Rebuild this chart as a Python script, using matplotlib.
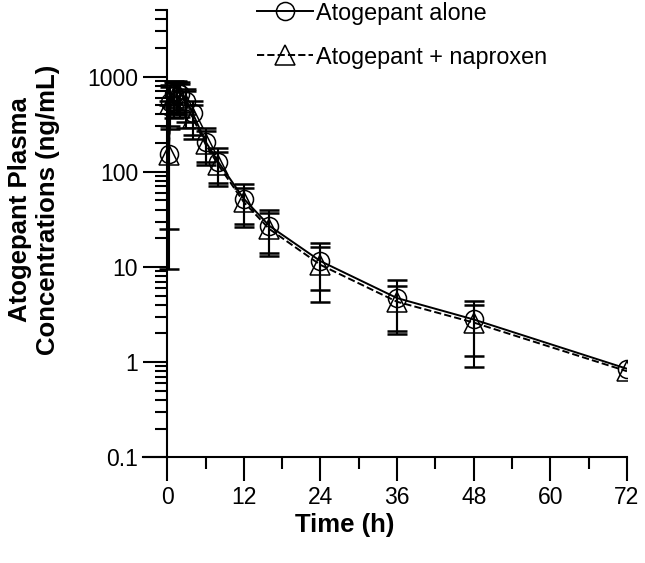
import matplotlib
matplotlib.use("Agg")
import matplotlib.pyplot as plt
import numpy as np
from matplotlib.ticker import FixedLocator, LogLocator, NullFormatter, FixedFormatter

plt.rcParams["font.family"] = ["Liberation Sans", "DejaVu Sans"]

# sampling times (h)
times = [0.25, 0.5, 1, 1.5, 2, 3, 4, 6, 8, 12, 16, 24, 36, 48, 72]

# mean concentrations (ng/mL)
alone_mean = [155, 540, 650, 700, 660, 560, 410, 208, 127, 52, 27, 11.5, 4.7, 2.8, 0.85]
napro_mean = [150, 520, 600, 640, 600, 500, 370, 195, 118, 48, 25, 10.5, 4.3, 2.6, 0.80]

# error bar bounds (first 14 time points; none shown at 72 h)
alone_lo = [25, 300, 400, 450, 420, 330, 245, 127, 76, 28, 13, 5.7, 2.1, 1.15]
alone_hi = [560, 820, 900, 890, 880, 750, 560, 290, 178, 74, 40, 17.8, 7.2, 4.4]
napro_lo = [9.5, 280, 370, 400, 380, 290, 220, 118, 70, 26, 14, 4.3, 1.95, 0.88]
napro_hi = [500, 780, 850, 870, 830, 700, 500, 265, 163, 68, 37, 16.3, 6.3, 4.0]

x_ticks = [0, 12, 24, 36, 48, 60, 72]
y_ticks = [0.1, 1, 10, 100, 1000]
y_labels = ["0.1", "1", "10", "100", "1000"]

fig = plt.figure(figsize=(6.45, 5.63), dpi=100)
ax = fig.add_axes([0.222, 0.188, 0.750, 0.794])

n_err = len(alone_lo)
t_err = np.array(times[:n_err])
for mean, lo, hi in [(alone_mean, alone_lo, alone_hi), (napro_mean, napro_lo, napro_hi)]:
    m = np.array(mean[:n_err])
    yerr = [m - np.array(lo), np.array(hi) - m]
    ax.errorbar(t_err, m, yerr=yerr, fmt="none", ecolor="black", elinewidth=1.5,
                capsize=7, capthick=1.8, zorder=2)

ax.plot(times, alone_mean, "-", color="black", linewidth=1.4, marker="o",
        markersize=13, markerfacecolor="none", markeredgecolor="black",
        markeredgewidth=1.1, label="Atogepant alone", zorder=3)
ax.plot(times, napro_mean, "--", color="black", linewidth=1.4, marker="^",
        markersize=14, markerfacecolor="none", markeredgecolor="black",
        markeredgewidth=1.1, label="Atogepant + naproxen", zorder=3)

ax.set_yscale("log")
ax.set_ylim(0.1, 5000)
ax.set_xlim(-3.76, 72)

ax.spines["top"].set_visible(False)
ax.spines["right"].set_visible(False)
ax.spines["left"].set_position(("data", 0))
ax.spines["left"].set_linewidth(1.5)
ax.spines["bottom"].set_linewidth(1.5)

ax.yaxis.set_major_locator(FixedLocator(y_ticks))
ax.yaxis.set_major_formatter(FixedFormatter(y_labels))
ax.yaxis.set_minor_locator(LogLocator(base=10, subs=np.arange(2, 10)))
ax.yaxis.set_minor_formatter(NullFormatter())
ax.set_xticks(x_ticks)
ax.set_xticks(np.arange(6, 72, 12), minor=True)

ax.tick_params(axis="both", which="major", direction="out", length=17, width=1.5,
               labelsize=16.5, pad=4)
ax.tick_params(axis="both", which="minor", direction="out", length=8.5, width=1.5)

ax.set_xlabel("Time (h)", fontsize=18.5, fontweight="bold")
ax.xaxis.set_label_coords(0.417, -0.124)
ax.set_ylabel("Atogepant Plasma\nConcentrations (ng/mL)", fontsize=18.5,
              fontweight="bold")
ax.yaxis.set_label_coords(-0.172, 0.553)

ax.legend(loc="upper left", bbox_to_anchor=(0.376, 1.022), bbox_transform=fig.transFigure,
          frameon=False, fontsize=16.8, handlelength=2.4, handletextpad=0.15,
          labelspacing=0.9, borderaxespad=0.2)

fig.savefig("out.png", dpi=100)
